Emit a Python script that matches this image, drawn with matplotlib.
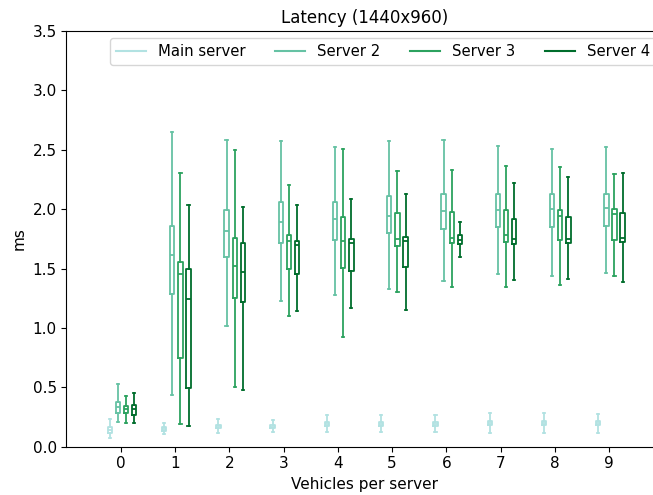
import matplotlib
matplotlib.use("Agg")
import matplotlib.pyplot as plt
from matplotlib.lines import Line2D

vehicles = [0, 1, 2, 3, 4, 5, 6, 7, 8, 9]
series_names = ["Main server", "Server 2", "Server 3", "Server 4"]
colors = ["#b2e2e2", "#66c2a4", "#2ca25f", "#006d2c"]

# Box statistics (ms) per vehicle count
main_whishi = [0.23, 0.197, 0.23, 0.225, 0.265, 0.265, 0.265, 0.282, 0.282, 0.273]
main_q3 = [0.163, 0.169, 0.186, 0.185, 0.21, 0.21, 0.21, 0.218, 0.218, 0.215]
main_med = [0.138, 0.152, 0.172, 0.169, 0.194, 0.192, 0.192, 0.2, 0.2, 0.197]
main_q1 = [0.116, 0.135, 0.158, 0.155, 0.178, 0.176, 0.176, 0.182, 0.182, 0.18]
main_whislo = [0.073, 0.107, 0.118, 0.121, 0.124, 0.121, 0.121, 0.116, 0.113, 0.118]

s2_whishi = [0.524, 2.652, 2.581, 2.572, 2.522, 2.57, 2.578, 2.53, 2.51, 2.527]
s2_q3 = [0.38, 1.854, 1.995, 2.06, 2.057, 2.11, 2.13, 2.124, 2.124, 2.13]
s2_med = [0.332, 1.617, 1.82, 1.894, 1.916, 1.944, 1.981, 1.995, 1.998, 2.009]
s2_q1 = [0.285, 1.282, 1.598, 1.716, 1.741, 1.795, 1.832, 1.851, 1.849, 1.857]
s2_whislo = [0.205, 0.431, 1.014, 1.228, 1.279, 1.33, 1.398, 1.457, 1.44, 1.46]

s3_whishi = [0.425, 2.302, 2.5, 2.2, 2.505, 2.319, 2.333, 2.367, 2.353, 2.297]
s3_q3 = [0.341, 1.555, 1.753, 1.781, 1.938, 1.964, 1.978, 1.989, 1.995, 2.003]
s3_med = [0.316, 1.451, 1.524, 1.73, 1.733, 1.75, 1.756, 1.784, 1.944, 1.959]
s3_q1 = [0.285, 0.75, 1.251, 1.496, 1.507, 1.693, 1.716, 1.724, 1.739, 1.741]
s3_whislo = [0.2, 0.189, 0.499, 1.099, 0.921, 1.302, 1.347, 1.344, 1.364, 1.437]

s4_whishi = [0.45, 2.037, 2.015, 2.037, 2.088, 2.13, 1.894, 2.218, 2.268, 2.305]
s4_q3 = [0.347, 1.499, 1.713, 1.735, 1.747, 1.764, 1.786, 1.916, 1.938, 1.967]
s4_med = [0.316, 1.245, 1.468, 1.696, 1.713, 1.736, 1.744, 1.747, 1.747, 1.756]
s4_q1 = [0.27, 0.496, 1.217, 1.457, 1.479, 1.513, 1.708, 1.71, 1.716, 1.722]
s4_whislo = [0.197, 0.175, 0.476, 1.144, 1.167, 1.15, 1.595, 1.406, 1.414, 1.389]

series_stats = [
    (main_whislo, main_q1, main_med, main_q3, main_whishi),
    (s2_whislo, s2_q1, s2_med, s2_q3, s2_whishi),
    (s3_whislo, s3_q1, s3_med, s3_q3, s3_whishi),
    (s4_whislo, s4_q1, s4_med, s4_q3, s4_whishi),
]
offsets = [-0.2, -0.05, 0.1, 0.25]

plt.rcParams["font.size"] = 11

fig = plt.figure(figsize=(6.53, 4.95), dpi=100)
# the axes run a little past the right edge of the canvas
ax = fig.add_axes([0.1018, 0.0976, 0.914, 0.8398])
ax.spines["right"].set_visible(False)

for (lo, q1, med, q3, hi), off, col in zip(series_stats, offsets, colors):
    stats = [
        dict(whislo=lo[i], q1=q1[i], med=med[i], q3=q3[i], whishi=hi[i], fliers=[])
        for i in range(len(vehicles))
    ]
    pos = [v + off for v in vehicles]
    lw = 1.3
    ax.bxp(
        stats, positions=pos, widths=0.08, showfliers=False, manage_ticks=False,
        boxprops=dict(color=col, linewidth=lw),
        medianprops=dict(color=col, linewidth=lw),
        whiskerprops=dict(color=col, linewidth=lw),
        capprops=dict(color=col, linewidth=lw),
    )

ax.set_xlim(-1, 10)
ax.set_ylim(0, 3.5)
ax.set_xticks(vehicles)
ax.set_xticklabels([str(v) for v in vehicles])
ax.set_yticks([0, 0.5, 1.0, 1.5, 2.0, 2.5, 3.0, 3.5])
ax.set_xlabel("Vehicles per server")
ax.set_ylabel("ms")
ax.set_title("Latency (1440x960)", fontsize=12)

handles = [Line2D([0], [0], color=c, linewidth=1.5) for c in colors]
ax.legend(handles, series_names, loc="upper right", ncol=4, fontsize=10.75)

fig.savefig("out.png", dpi=100)
